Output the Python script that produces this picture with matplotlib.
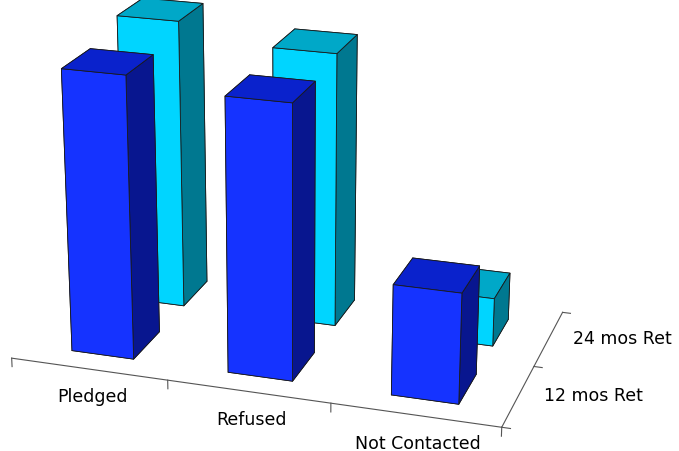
import matplotlib
matplotlib.use("Agg")
import matplotlib.pyplot as plt
import numpy as np

categories = ["Pledged", "Refused", "Not Contacted"]
series = ["12 mos Ret", "24 mos Ret"]
ret_12 = [80, 77, 31]
ret_24 = [84, 79, 14]

# face colours per series: front, top, right side
face_12 = ("#1533ff", "#0a22cc", "#08168f")
face_24 = ("#00d5ff", "#00a8c8", "#007890")

fig = plt.figure(figsize=(6.79, 4.51), dpi=100)
ax = fig.add_axes([-0.336, -0.178, 1.51, 1.51], projection="3d",
                  proj_type="persp", focal_length=0.6)
ax.set_axis_off()

xs, ys, zs, dzs, colors = [], [], [], [], []
bw, bd = 0.4, 0.5
for row, (vals, (front, top, side)) in enumerate([(ret_12, face_12), (ret_24, face_24)]):
    for i, v in enumerate(vals):
        xs.append(i + 1 - bw / 2)
        ys.append(row + 0.5 - bd / 2)
        zs.append(0)
        dzs.append(v)
        # order: bottom, top, -y(front), +y(back), -x(left), +x(right)
        colors += [front, top, front, front, side, side]

ax.bar3d(xs, ys, zs, bw, bd, dzs, color=colors, shade=False,
         edgecolor="#1a1a1a", linewidth=0.6)

# floor axis lines with ticks
line_kw = dict(color="#555555", lw=0.8)
ax.plot([0.5, 3.5], [0, 0], [0, 0], **line_kw)
ax.plot([3.5, 3.5], [0, 2], [0, 0], **line_kw)
for x in [0.5, 1.5, 2.5, 3.5]:
    ax.plot([x, x], [0, 0], [0, -2.5], **line_kw)
for y in [0, 1, 2]:
    ax.plot([3.5, 3.55], [y, y], [0, 0], **line_kw)

for i, name in enumerate(categories):
    ax.text(i + 1.02, 0, -8, name, ha="center", va="center", fontsize=12.5)
for j, name in enumerate(series):
    ax.text(3.64, j + 0.55, 0, name, ha="left", va="center", fontsize=12.5)

ax.set_xlim(0.5, 3.5)
ax.set_ylim(0, 2)
ax.set_zlim(0, 90)
ax.set_box_aspect((3, 1.7, 2.0), zoom=0.95)
ax.view_init(elev=20, azim=-72)

fig.savefig("out.png", dpi=100)
